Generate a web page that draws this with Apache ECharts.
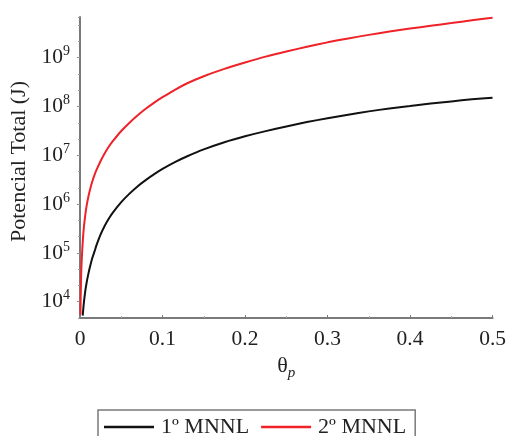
<!DOCTYPE html>
<html>
<head>
<meta charset="utf-8">
<script src="https://cdn.jsdelivr.net/npm/echarts@6/dist/echarts.min.js"></script>
<style>html,body{margin:0;padding:0;background:#fff;}#c{width:509px;height:436px;}</style>
</head>
<body>
<div id="c"></div>
<script>
// theta_p sample points and values (J)
const thetaRed = [0.00055, 0.0007, 0.001, 0.0015, 0.002, 0.003, 0.004, 0.005, 0.0065, 0.008, 0.01, 0.0125, 0.015, 0.0175, 0.02, 0.025, 0.03, 0.035, 0.04, 0.05, 0.06, 0.07, 0.08, 0.09, 0.1, 0.115, 0.13, 0.15, 0.175, 0.2, 0.225, 0.25, 0.275, 0.3, 0.325, 0.35, 0.375, 0.4, 0.425, 0.45, 0.475, 0.5];
const valRed   = [5.5e3, 8.8e3, 1.78e4, 3.98e4, 6.76e4, 1.38e5, 2.45e5, 3.76e5, 6.17e5, 9.18e5, 1.38e6, 2.09e6, 2.94e6, 3.92e6, 5.01e6, 7.66e6, 1.10e7, 1.51e7, 1.97e7, 3.15e7, 4.66e7, 6.61e7, 9.06e7, 1.20e8, 1.55e8, 2.20e8, 2.99e8, 4.17e8, 5.89e8, 7.94e8, 1.05e9, 1.34e9, 1.67e9, 2.06e9, 2.48e9, 2.93e9, 3.43e9, 3.95e9, 4.51e9, 5.12e9, 5.82e9, 6.61e9];
const thetaBlack = [0.0033, 0.004, 0.005, 0.0065, 0.008, 0.01, 0.0125, 0.015, 0.0175, 0.02, 0.025, 0.03, 0.035, 0.04, 0.05, 0.06, 0.07, 0.08, 0.09, 0.1, 0.115, 0.13, 0.15, 0.175, 0.2, 0.225, 0.25, 0.275, 0.3, 0.325, 0.35, 0.375, 0.4, 0.425, 0.45, 0.475, 0.5];
const valBlack   = [5.2e3, 7.24e3, 1.07e4, 1.70e4, 2.45e4, 3.63e4, 5.50e4, 7.94e4, 1.06e5, 1.44e5, 2.39e5, 3.61e5, 5.07e5, 6.79e5, 1.10e6, 1.64e6, 2.33e6, 3.14e6, 4.11e6, 5.25e6, 7.24e6, 9.55e6, 1.32e7, 1.85e7, 2.45e7, 3.13e7, 3.89e7, 4.79e7, 5.75e7, 6.76e7, 7.94e7, 9.12e7, 1.02e8, 1.15e8, 1.27e8, 1.40e8, 1.51e8];
const seriesNames = ['1º MNNL', '2º MNNL'];
const xTicks = [0, 0.1, 0.2, 0.3, 0.4, 0.5];
// y-axis range as decade exponents (minor ticks every third of a decade)
const yExpMin = 11 / 3, yExpMax = 29.5 / 3, yMinorStep = 1 / 3;

const chart = echarts.init(document.getElementById('c'), null, {renderer: 'canvas'});
const axisColor = '#7a7a7a';
const font = "'Liberation Serif', 'Times New Roman', 'DejaVu Serif', serif";
const txt = '#222';
const fs = 21.5;
chart.setOption({
  animation: false,
  backgroundColor: '#fff',
  grid: {left: 79, right: 14, top: 17, bottom: 118, containLabel: false},
  legend: {
    data: seriesNames,
    left: 98, top: 410,
    orient: 'horizontal',
    icon: 'rect',
    itemWidth: 50, itemHeight: 2.5,
    itemGap: 12,
    borderColor: axisColor, borderWidth: 1.5,
    padding: [6, 9, 30, 6],
    textStyle: {fontFamily: font, fontSize: 22, color: txt, padding: [0, 0, 0, 2]}
  },
  xAxis: {
    type: 'value', min: 0, max: 0.5, interval: 0.1,
    name: '{t|θ}{p|p}', nameLocation: 'middle', nameGap: 27,
    nameTextStyle: {rich: {
      t: {fontFamily: font, fontSize: 22, color: txt},
      p: {fontFamily: font, fontSize: 15, fontStyle: 'italic', color: txt, padding: [15, 0, 0, 0]}
    }},
    axisLine: {show: true, lineStyle: {color: axisColor, width: 2}},
    axisTick: {show: true, inside: true, length: 3, lineStyle: {color: axisColor, width: 1}},
    minorTick: {show: true, splitNumber: 2, length: 2, lineStyle: {color: '#aaa'}},
    splitLine: {show: false},
    axisLabel: {fontFamily: font, fontSize: fs, color: txt, margin: 10,
      formatter: v => (v === 0 ? '0' : v.toFixed(1))}
  },
  yAxis: [{
    type: 'log', logBase: 10, min: Math.pow(10, yExpMin), max: Math.pow(10, yExpMax),
    name: 'Potencial Total (J)', nameLocation: 'middle', nameGap: 50, nameRotate: 90,
    nameTextStyle: {fontFamily: font, fontSize: 22, color: txt, padding: [0, 0, 0, 12]},
    axisLine: {show: true, lineStyle: {color: axisColor, width: 2}},
    axisTick: {show: true, inside: false, length: 3, lineStyle: {color: axisColor, width: 1}},
    splitLine: {show: false},
    axisLabel: {
      showMinLabel: false, showMaxLabel: false, margin: 10,
      formatter: v => {
        const e = Math.round(Math.log10(v));
        if (Math.abs(Math.log10(v) - e) > 1e-6) return '';
        return '{b|10}{s|' + e + '}';
      },
      rich: {
        b: {fontFamily: font, fontSize: fs, color: txt},
        s: {fontFamily: font, fontSize: 14, color: txt, padding: [0, 0, 12, 0]}
      }
    }
  }, {
    type: 'value', min: yExpMin, max: yExpMax, interval: yMinorStep,
    position: 'left', offset: 0,
    axisLine: {show: false},
    axisTick: {show: true, inside: false, length: 2, lineStyle: {color: '#999', width: 1}},
    axisLabel: {show: false},
    splitLine: {show: false}
  }],
  series: [
    {name: seriesNames[0], type: 'line', yAxisIndex: 0, showSymbol: false, symbol: 'none', smooth: 0.2,
     color: '#111', lineStyle: {width: 2, color: '#111'},
     data: thetaBlack.map((t, i) => [t, valBlack[i]])},
    {name: seriesNames[1], type: 'line', yAxisIndex: 0, showSymbol: false, symbol: 'none', smooth: 0.2,
     color: '#ee2228', lineStyle: {width: 2, color: '#ee2228'},
     data: thetaRed.map((t, i) => [t, valRed[i]])}
  ]
});
</script>
</body>
</html>
